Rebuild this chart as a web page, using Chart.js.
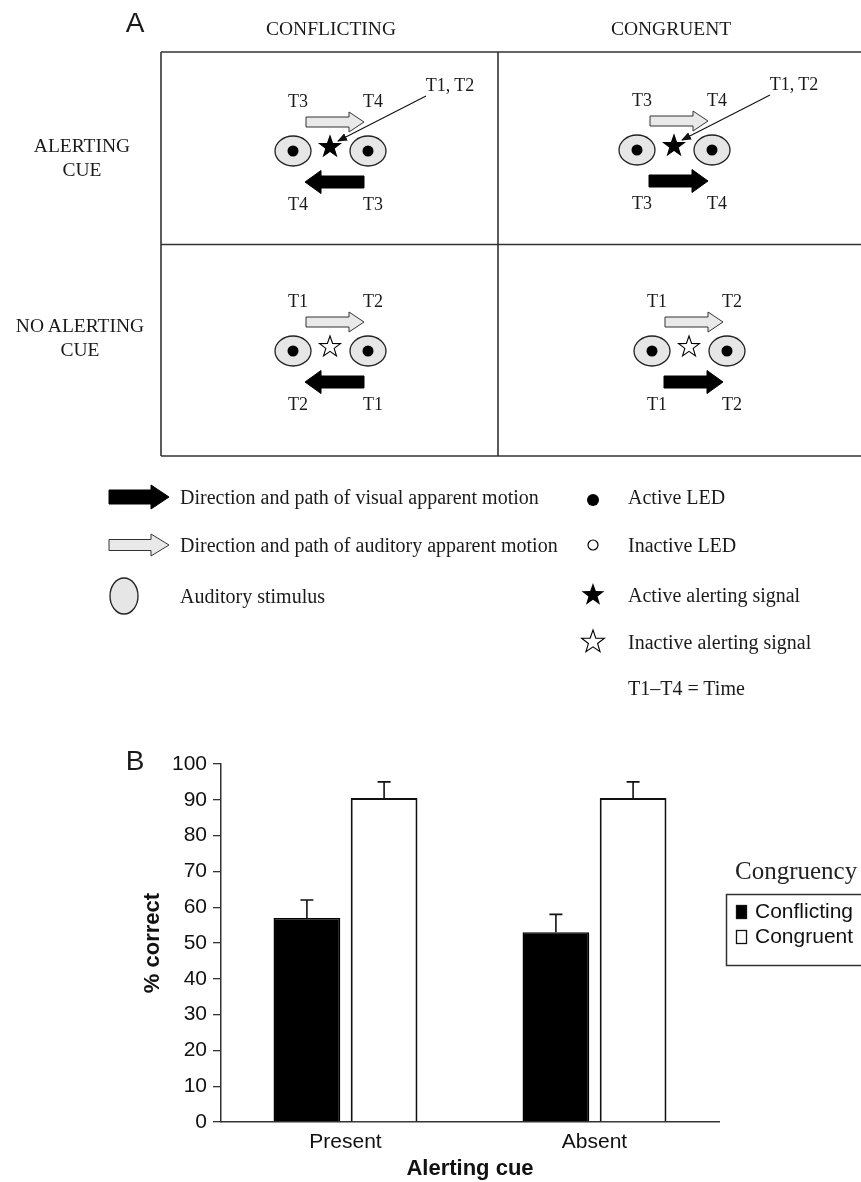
<!DOCTYPE html>
<html><head><meta charset="utf-8">
<script src="https://cdn.jsdelivr.net/npm/chart.js@4.4.1/dist/chart.umd.min.js"></script>
<style>
html,body{margin:0;padding:0;background:#fff;}
#wrap{position:relative;width:861px;height:1182px;overflow:hidden;background:#fff;}
#bwrap{position:absolute;left:0;top:730px;width:900px;height:452px;}
#diagram{position:absolute;left:0;top:0;}
</style></head><body>
<div id="wrap">
<div id="bwrap"><canvas id="chart" width="900" height="452"></canvas></div>
<svg id="diagram" width="861" height="1182" xmlns="http://www.w3.org/2000/svg"></svg>
</div>
<script>
// ---------- Panel B data ----------
const categories = ['Present', 'Absent'];
const seriesLabels = ['Conflicting', 'Congruent'];
const conflictingMeans = [57, 53];
const conflictingErrors = [5, 5];
const congruentMeans = [90.5, 90.5];
const congruentErrors = [4.5, 4.5];
const yMin = 0, yMax = 100, yStep = 10;
const xTitle = 'Alerting cue';
const yTitle = '% correct';
const legendTitle = 'Congruency';

// ---------- Panel A text ----------
const colHeaders = ['CONFLICTING', 'CONGRUENT'];
const rowHeaders = [['ALERTING', 'CUE'], ['NO ALERTING', 'CUE']];
const legendLeft = ['Direction and path of visual apparent motion', 'Direction and path of auditory apparent motion', 'Auditory stimulus'];
const legendRight = ['Active LED', 'Inactive LED', 'Active alerting signal', 'Inactive alerting signal', 'T1\u2013T4 = Time'];

// ---------- Panel A drawing (SVG schematic) ----------
const NS = 'http://www.w3.org/2000/svg';
const svg = document.getElementById('diagram');
const SERIF = "'Liberation Serif','Times New Roman',serif";
const SANS = "'Liberation Sans',Arial,sans-serif";
function el(tag, attrs, txt){ const e=document.createElementNS(NS,tag); for(const k in attrs) e.setAttribute(k, attrs[k]); if(txt!==undefined) e.textContent=txt; svg.appendChild(e); return e; }
function text(x,y,s,size,anchor,family,weight){ return el('text',{x:x,y:y,'font-size':size,'font-family':family||SERIF,'text-anchor':anchor||'middle','dominant-baseline':'central',fill:'#1a1a1a','font-weight':weight||'normal'}, s); }
function starPath(cx,cy,R){ const r=R*0.40; let d=''; for(let i=0;i<10;i++){ const a=-Math.PI/2+i*Math.PI/5; const rr=i%2?r:R; d+=(i?'L':'M')+(cx+rr*Math.cos(a)).toFixed(2)+','+(cy+rr*Math.sin(a)).toFixed(2);} return d+'Z'; }
function arrowPath(x0,x1,cy,hl,sh,hh,dir){
  if(dir==='right') return `M${x0},${cy-sh}L${x1-hl},${cy-sh}L${x1-hl},${cy-hh}L${x1},${cy}L${x1-hl},${cy+hh}L${x1-hl},${cy+sh}L${x0},${cy+sh}Z`;
  return `M${x1},${cy-sh}L${x0+hl},${cy-sh}L${x0+hl},${cy-hh}L${x0},${cy}L${x0+hl},${cy+hh}L${x0+hl},${cy+sh}L${x1},${cy+sh}Z`;
}
const defs = el('defs',{});
const mk = document.createElementNS(NS,'marker');
[['id','ah'],['markerWidth','10'],['markerHeight','8'],['refX','9'],['refY','4'],['orient','auto'],['markerUnits','userSpaceOnUse']].forEach(([k,v])=>mk.setAttribute(k,v));
const mp = document.createElementNS(NS,'path'); mp.setAttribute('d','M0,0L10,4L0,8Z'); mp.setAttribute('fill','#111'); mk.appendChild(mp); defs.appendChild(mk);

// panel letters
text(135,22,'A',28,'middle',SANS);
text(135,760,'B',28,'middle',SANS);
// headers
text(331,28,colHeaders[0],19.5);
text(671,28,colHeaders[1],19.5);
text(82,145,rowHeaders[0][0],19.5); text(82,169,rowHeaders[0][1],19.5);
text(80,325,rowHeaders[1][0],19.5); text(80,349,rowHeaders[1][1],19.5);
// grid
const gs = {stroke:'#333','stroke-width':1.6,fill:'none'};
el('line',Object.assign({x1:161,y1:52,x2:870,y2:52},gs));
el('line',Object.assign({x1:161,y1:244.5,x2:870,y2:244.5},gs));
el('line',Object.assign({x1:161,y1:456,x2:870,y2:456},gs));
el('line',Object.assign({x1:161,y1:52,x2:161,y2:456},gs));
el('line',Object.assign({x1:498,y1:52,x2:498,y2:456},gs));

const cells = [
  {cx:293, cy:151, alert:true,  dir:'left',  top:['T3','T4'], bot:['T4','T3']},
  {cx:637, cy:150, alert:true,  dir:'right', top:['T3','T4'], bot:['T3','T4']},
  {cx:293, cy:351, alert:false, dir:'left',  top:['T1','T2'], bot:['T2','T1']},
  {cx:652, cy:351, alert:false, dir:'right', top:['T1','T2'], bot:['T1','T2']}
];
cells.forEach(c=>{
  const {cx,cy}=c;
  text(cx+5,cy-50,c.top[0],18); text(cx+80,cy-50,c.top[1],18);
  el('path',{d:arrowPath(cx+13,cx+71,cy-29,15,5,10,'right'),fill:'#e9e9e9',stroke:'#333','stroke-width':1});
  [0,75].forEach(dx=>{
    el('ellipse',{cx:cx+dx,cy:cy,rx:18,ry:15,fill:'#e6e6e6',stroke:'#222','stroke-width':1.3});
    el('circle',{cx:cx+dx,cy:cy,r:5.5,fill:'#000'});
  });
  el('path',{d:starPath(cx+37,cy-4,11),fill:c.alert?'#000':'#fff',stroke:'#000','stroke-width':1.1,'stroke-linejoin':'miter'});
  el('path',{d:arrowPath(cx+12,cx+71,cy+31,16,6,11.5,c.dir),fill:'#000',stroke:'#000','stroke-width':1});
  text(cx+5,cy+53,c.bot[0],18); text(cx+80,cy+53,c.bot[1],18);
  if(c.alert){
    text(cx+157,cy-66,'T1, T2',18);
    el('line',{x1:cx+133,y1:cy-55,x2:cx+45,y2:cy-10,stroke:'#111','stroke-width':1.1,'marker-end':'url(#ah)'});
  }
});

// legend of panel A
el('path',{d:arrowPath(109,169,497,18,7,12,'right'),fill:'#000',stroke:'#000','stroke-width':1});
el('path',{d:arrowPath(109,169,545,18,5.5,11,'right'),fill:'#e9e9e9',stroke:'#333','stroke-width':1});
el('ellipse',{cx:124,cy:596,rx:14,ry:18,fill:'#e6e6e6',stroke:'#222','stroke-width':1.3});
legendLeft.forEach((s,i)=>text(180,[497,545,596][i],s,20,'start'));
el('circle',{cx:593,cy:500,r:6,fill:'#000'});
el('circle',{cx:593,cy:545,r:5,fill:'#fff',stroke:'#000','stroke-width':1.2});
el('path',{d:starPath(593,595,12),fill:'#000'});
el('path',{d:starPath(593,642,12),fill:'#fff',stroke:'#000','stroke-width':1.1});
legendRight.forEach((s,i)=>text(628,[497,545,595,642,688][i],s,20,'start'));

// ---------- Panel B chart ----------
const FONT = "'Liberation Sans', Arial, sans-serif";
const errorBars = {
  id:'errorBars',
  afterDatasetsDraw(chart){
    const ctx=chart.ctx, ys=chart.scales.y;
    chart.data.datasets.forEach((ds,di)=>{
      chart.getDatasetMeta(di).data.forEach((bar,i)=>{
        const top=ys.getPixelForValue(ds.data[i]+ds.errors[i]);
        ctx.save(); ctx.strokeStyle='#111'; ctx.lineWidth=1.6;
        ctx.beginPath(); ctx.moveTo(bar.x,bar.y); ctx.lineTo(bar.x,top);
        ctx.moveTo(bar.x-6.5,top); ctx.lineTo(bar.x+6.5,top); ctx.stroke(); ctx.restore();
      });
    });
  }
};
const boxLegend = {
  id:'boxLegend',
  afterDraw(chart){
    const ctx=chart.ctx; ctx.save();
    ctx.textBaseline='middle'; ctx.textAlign='left';
    ctx.fillStyle='#222'; ctx.font="25px 'Liberation Serif','Times New Roman',serif";
    ctx.fillText(legendTitle,735,142);
    ctx.strokeStyle='#333'; ctx.lineWidth=1.5; ctx.strokeRect(726.5,164.5,175,71);
    chart.data.datasets.forEach((ds,i)=>{
      const yy=182+i*25;
      ctx.fillStyle=ds.backgroundColor; ctx.fillRect(736,yy-7,11,14);
      ctx.strokeStyle='#111'; ctx.lineWidth=1.3; ctx.strokeRect(736.5,yy-6.5,10,13);
      ctx.fillStyle='#111'; ctx.font="21px "+FONT;
      ctx.fillText(ds.label,755,yy);
    });
    ctx.restore();
  }
};
new Chart(document.getElementById('chart'),{
  type:'bar',
  data:{
    labels:categories,
    datasets:[
      {label:seriesLabels[0], data:conflictingMeans, errors:conflictingErrors, backgroundColor:'#000', borderColor:'#000', borderWidth:1.5, categoryPercentage:0.62, barPercentage:0.865},
      {label:seriesLabels[1], data:congruentMeans, errors:congruentErrors, backgroundColor:'#fff', borderColor:'#111', borderWidth:2, categoryPercentage:0.62, barPercentage:0.865}
    ]
  },
  options:{
    responsive:false, animation:false, devicePixelRatio:1,
    layout:{padding:{top:34,right:181,left:0,bottom:0}},
    plugins:{legend:{display:false}, tooltip:{enabled:false}},
    scales:{
      x:{
        grid:{display:false,drawTicks:false},
        border:{display:true,color:'#333',width:1.5},
        ticks:{font:{family:FONT,size:21},color:'#111',padding:8},
        title:{display:true,text:xTitle,color:'#111',font:{family:FONT,size:22,weight:'bold'},padding:{top:0,bottom:0}},
        afterFit(s){ s.height=60; }
      },
      y:{
        min:yMin,max:yMax,
        ticks:{stepSize:yStep,font:{family:FONT,size:21},color:'#111',padding:6},
        grid:{display:true,drawOnChartArea:false,drawTicks:true,tickLength:8,color:'#333',lineWidth:1.3},
        border:{display:true,color:'#333',width:1.5},
        title:{display:true,text:yTitle,color:'#111',font:{family:FONT,size:22,weight:'bold'},padding:{top:140,bottom:0}},
        afterFit(s){ s.width=221; }
      }
    }
  },
  plugins:[errorBars,boxLegend]
});
</script>
</body></html>
